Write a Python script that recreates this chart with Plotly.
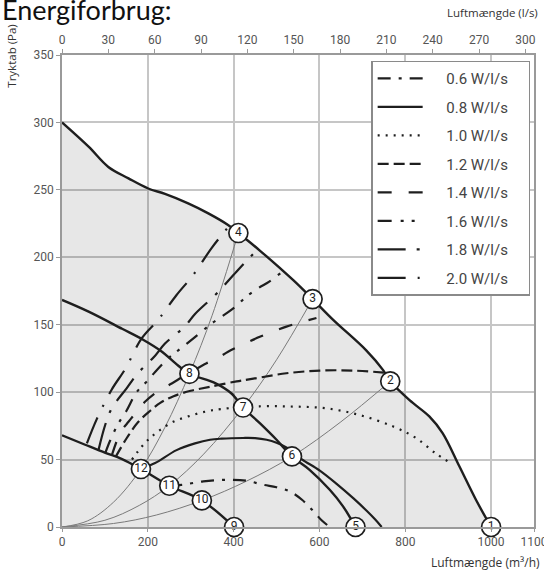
import plotly.graph_objects as go

# ---------------- data ----------------
# fan curves (m3/h, Pa)
fan_max_q = [0, 62, 108, 155, 201, 240, 294, 341, 387, 411, 461, 539, 584, 632, 709, 748, 765, 810, 856, 887, 926, 965, 1000]
fan_max_p = [300, 282, 267, 258.5, 251, 247, 240, 232.6, 224, 218, 205, 183, 169, 153.6, 131, 116.5, 108, 94, 82, 69.6, 45, 20, 0]

fan_mid_q = [0, 62, 140, 190, 233, 264, 297, 357, 395, 422, 461, 500, 536, 577, 624, 655, 684]
fan_mid_p = [168.4, 159.7, 147, 138.7, 130, 121.5, 113.6, 106.7, 99, 88.6, 77, 64.7, 52.3, 42.4, 27.6, 15.3, 0]

fan_min_q = [0, 54, 101, 140, 184, 250, 326, 401]
fan_min_p = [68, 61, 55, 50.4, 43, 30.6, 19.7, 0]

# system curves (thin)
sysA_q = [0, 60, 120, 184, 240, 297, 350, 411]
sysA_p = [0, 4.6, 18.4, 43, 74, 113.6, 157, 218]
sysB_q = [0, 100, 180, 250, 330, 422, 500, 584]
sysB_p = [0, 5, 16, 30.6, 54, 88.6, 124, 169]
sysC_q = [0, 120, 220, 326, 430, 536, 650, 765]
sysC_p = [0, 2.6, 8.9, 19.7, 34, 52.3, 78, 108]

# specific fan power curves
sfp_labels = ["0.6 W/l/s", "0.8 W/l/s", "1.0 W/l/s", "1.2 W/l/s",
              "1.4 W/l/s", "1.6 W/l/s", "1.8 W/l/s", "2.0 W/l/s"]
sfp06_q = [250, 279, 329, 384, 430, 469, 500, 531, 560, 585, 605, 624]
sfp06_p = [30.6, 31.3, 33.8, 35, 34.3, 31.3, 29.5, 26.4, 20, 12, 5, 0]
sfp08_q = [184, 217, 267, 310, 345, 372, 422, 450, 477, 500, 523, 545, 560, 600, 640, 680, 710, 730, 745]
sfp08_p = [43, 47.4, 57, 62, 64.7, 65.5, 66, 65.9, 64.7, 62.5, 59, 54, 50, 42, 32, 21, 12, 5.5, 0]
sfp10_q = [163, 186, 205, 229, 259, 294, 333, 372, 461, 539, 616, 694, 772, 825, 872, 908]
sfp10_p = [50, 59.7, 66, 72, 78, 82, 85.5, 87.5, 89.5, 89.3, 88, 83, 74.5, 66, 54.3, 47]
sfp12_q = [125, 151, 178, 205, 229, 260, 300, 345, 407, 446, 523, 601, 678, 750]
sfp12_p = [52, 66, 78, 86, 92, 97, 101, 104, 108, 110, 114, 116, 116, 114.5]
sfp14_q = [116, 128, 140, 155, 170, 194, 225, 248, 290, 337, 357, 387, 419, 461, 523, 593]
sfp14_p = [53, 64, 72, 78, 84, 93, 101, 105, 113, 121.5, 124, 130, 135, 141, 148.6, 155]
sfp16_q = [101, 112, 130, 150, 174, 201, 217, 244, 271, 291, 322, 349, 372, 403, 430, 457, 483, 516]
sfp16_p = [55, 64, 76, 86, 100, 109, 115, 124, 131, 136, 144, 151, 156, 163, 171, 177, 182, 190]
sfp18_q = [85, 101, 116, 151, 174, 217, 240, 287, 310, 360, 400, 426, 456]
sfp18_p = [57, 76, 88, 103, 113, 127, 136, 149, 158, 173, 187, 196, 206]
sfp20_q = [58, 81, 116, 147, 186, 225, 267, 306, 349, 389]
sfp20_p = [62, 80, 102, 117, 140, 154, 172, 187, 207, 223]

# numbered operating points
pt_labels = ["1", "2", "3", "4", "5", "6", "7", "8", "9", "10", "11", "12"]
pt_q = [1000, 765, 584, 411, 684, 536, 422, 297, 401, 326, 250, 184]
pt_p = [0, 108, 169, 218, 0, 52.3, 88.6, 113.6, 0, 19.7, 30.6, 43]

# axis ticks
x_ticks = [0, 200, 400, 600, 800, 1000, 1100]
y_ticks = [0, 50, 100, 150, 200, 250, 300, 350]
ls_ticks = [0, 30, 60, 90, 120, 150, 180, 210, 240, 270, 300]

# ---------------- styling ----------------
COND = "Roboto, Liberation Sans Narrow, DejaVu Sans Condensed, sans-serif"
SANS = "Open Sans, Noto Sans, sans-serif"
INK = "#1e1e1e"
NB = "\u00a0"

fig = go.Figure()

# shaded working area under the max fan curve
fig.add_trace(go.Scatter(x=fan_max_q, y=fan_max_p, mode="lines", fill="tozeroy",
                         fillcolor="rgba(0,0,0,0.095)", line=dict(color=INK, width=2.4),
                         line_shape="spline", showlegend=False, hoverinfo="skip"))

# thin system curves
for q, p in [(sysA_q, sysA_p), (sysB_q, sysB_p), (sysC_q, sysC_p)]:
    fig.add_trace(go.Scatter(x=q, y=p, mode="lines", line=dict(color="#7a7a7a", width=1),
                             line_shape="spline", showlegend=False, hoverinfo="skip"))

# SFP curves
sfp_q = [sfp06_q, sfp08_q, sfp10_q, sfp12_q, sfp14_q, sfp16_q, sfp18_q, sfp20_q]
sfp_p = [sfp06_p, sfp08_p, sfp10_p, sfp12_p, sfp14_p, sfp16_p, sfp18_p, sfp20_p]
sfp_dash = ["13px,8px,3px,8px", "solid", "2px,6px", "11px,5px",
            "14px,17px", "14px,9px,3px,8px,3px,9px", "28px,11px,3px,11px", "28px,12px,2px,12px"]
for i in range(8):
    fig.add_trace(go.Scatter(x=sfp_q[i], y=sfp_p[i], mode="lines",
                             name=NB * 5 + sfp_labels[i] + NB * 4,
                             legendgroup=sfp_labels[i],
                             line=dict(color=INK, width=2.2, dash=sfp_dash[i]),
                             line_shape="spline", hoverinfo="skip"))

# lower fan curves
fig.add_trace(go.Scatter(x=fan_mid_q, y=fan_mid_p, mode="lines", line=dict(color=INK, width=2.4),
                         line_shape="spline", showlegend=False, hoverinfo="skip"))
fig.add_trace(go.Scatter(x=fan_min_q, y=fan_min_p, mode="lines", line=dict(color=INK, width=2.4),
                         line_shape="spline", showlegend=False, hoverinfo="skip"))

# numbered circles
fig.add_trace(go.Scatter(x=pt_q, y=pt_p, mode="markers+text", text=pt_labels,
                         textposition="middle center",
                         textfont=dict(family=COND, size=12, color=INK),
                         marker=dict(size=19, color="white", line=dict(color=INK, width=1.7)),
                         cliponaxis=False, showlegend=False, hoverinfo="skip"))

# carrier for top (l/s) axis
fig.add_trace(go.Scatter(x=ls_ticks, y=[None] * len(ls_ticks), xaxis="x2", mode="lines",
                         showlegend=False, hoverinfo="skip"))

tickfont = dict(family=COND, size=12, color="#555")
fig.update_layout(
    width=544, height=576,
    margin=dict(l=62, r=10, t=55, b=49, autoexpand=False),
    plot_bgcolor="white", paper_bgcolor="white",
    xaxis=dict(range=[0, 1100], tickvals=x_ticks, showgrid=True, gridcolor="#c6c6c6", gridwidth=1.5,
               showline=True, linecolor="#9a9a9a", linewidth=1.5, mirror=True, automargin=False,
               ticks="outside", ticklen=3, tickcolor="#9a9a9a", tickfont=tickfont, zeroline=False,
               ticklabeloverflow="allow"),
    xaxis2=dict(range=[0, 1100 / 3.6], overlaying="x", side="top", tickvals=ls_ticks,
                showgrid=False, showline=True, linecolor="#9a9a9a", linewidth=1.5, automargin=False,
                ticks="outside", ticklen=4, tickcolor="#9a9a9a", tickfont=tickfont, zeroline=False,
                ticklabeloverflow="allow"),
    yaxis=dict(range=[0, 350], tickvals=y_ticks, showgrid=True, gridcolor="#c6c6c6", gridwidth=1.5,
               showline=True, linecolor="#9a9a9a", linewidth=1.5, mirror=True, automargin=False,
               ticks="outside", ticklen=4, tickcolor="#9a9a9a", tickfont=tickfont, zeroline=False),
    legend=dict(x=0.655, y=0.988, xanchor="left", yanchor="top", bgcolor="white",
                bordercolor="#8a8a8a", borderwidth=1.5, itemwidth=45, tracegroupgap=6,
                font=dict(family=COND, size=15, color="#444")),
    showlegend=True,
)

fig.add_annotation(text="Energiforbrug:", xref="paper", yref="paper", x=-62 / 472, y=1.097,
                   xanchor="left", yanchor="middle", showarrow=False,
                   font=dict(family="Lato, Open Sans, sans-serif", size=27, color="#111"))
fig.add_annotation(text="Luftmængde (l/s)", xref="paper", yref="paper", x=478 / 472, y=(527.3 - 13) / 472,
                   xanchor="right", yanchor="middle", showarrow=False,
                   font=dict(family=SANS, size=11.5, color="#333"))
fig.add_annotation(text="Luftmængde (m³/h)", xref="paper", yref="paper", x=480 / 472, y=(527.3 - 563) / 472,
                   xanchor="right", yanchor="middle", showarrow=False,
                   font=dict(family=SANS, size=12, color="#333"))
fig.add_annotation(text="Tryktab (Pa)", xref="paper", yref="paper", x=-50 / 472, y=(527.3 - 57) / 472,
                   xanchor="center", yanchor="middle", textangle=-90, showarrow=False,
                   font=dict(family=SANS, size=11.5, color="#333"))

fig.write_html("out.html", config={"displayModeBar": False},
               post_script="document.body.style.margin='0px';")
